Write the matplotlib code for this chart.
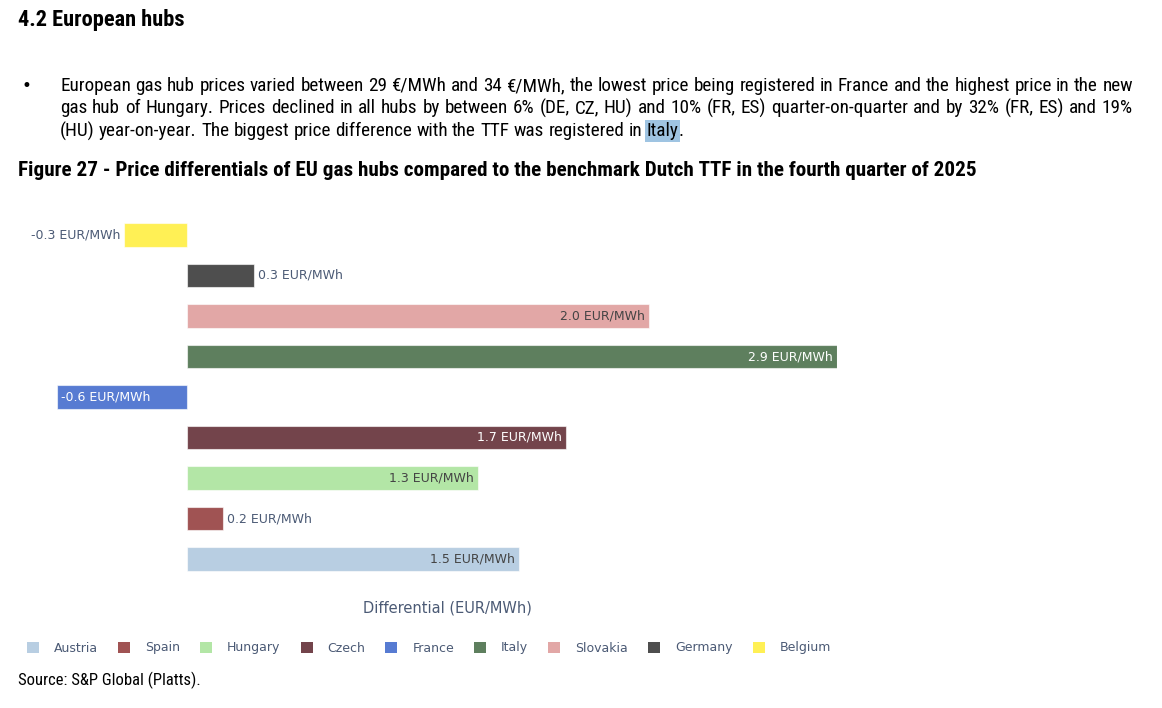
import matplotlib
matplotlib.use('Agg')
import matplotlib.pyplot as plt
from matplotlib import font_manager
from matplotlib.patches import Patch
import matplotlib.colors as mcolors

# ---------------- data ----------------
hubs = ['Belgium', 'Germany', 'Slovakia', 'Italy', 'France', 'Czech', 'Hungary', 'Spain', 'Austria']
values = [-0.28, 0.30, 2.06, 2.90, -0.58, 1.69, 1.30, 0.16, 1.48]
labels = ['-0.3 EUR/MWh', '0.3 EUR/MWh', '2.0 EUR/MWh', '2.9 EUR/MWh', '-0.6 EUR/MWh',
          '1.7 EUR/MWh', '1.3 EUR/MWh', '0.2 EUR/MWh', '1.5 EUR/MWh']
colors = ['#fff055', '#4e4e4e', '#e2a7a6', '#5e7f5e', '#577bd2', '#73444b', '#b3e6a6', '#a05353', '#b8cee2']
legend_order = ['Austria', 'Spain', 'Hungary', 'Czech', 'France', 'Italy', 'Slovakia', 'Germany', 'Belgium']

heading = '4.2 European hubs'
body_lines = [
    'European gas hub prices varied between 29 €/MWh and 34 €/MWh, the lowest price being registered in France and the highest price in the new',
    'gas hub of Hungary. Prices declined in all hubs by between 6% (DE, CZ, HU) and 10% (FR, ES) quarter-on-quarter and by 32% (FR, ES) and 19%',
    '(HU) year-on-year. The biggest price difference with the TTF was registered in Italy.',
]
fig_title = 'Figure 27 - Price differentials of EU gas hubs compared to the benchmark Dutch TTF in the fourth quarter of 2025'
x_title = 'Differential (EUR/MWh)'
source = 'Source: S&P Global (Platts).'

# ---------------- setup ----------------
W, H = 1162, 708
avail = {f.name for f in font_manager.fontManager.ttflist}
doc_font = next((f for f in ['Liberation Sans Narrow', 'Roboto Condensed', 'Open Sans Condensed',
                             'DejaVu Sans Condensed', 'Liberation Sans'] if f in avail), 'DejaVu Sans')
chart_font = 'DejaVu Sans'

fig = plt.figure(figsize=(W / 100, H / 100), dpi=100)
fig.patch.set_facecolor('white')
renderer = fig.canvas.get_renderer()


def fy(y):
    return 1 - y / H


def text_w(t):
    return t.get_window_extent(renderer).width


def fit_text(x, y, s, target_w, fs0=12, **kw):
    t = fig.text(x / W, fy(y), s, fontsize=fs0, va='center', ha='left', family=doc_font, color='black', **kw)
    t.set_fontsize(fs0 * target_w / text_w(t))
    return t


# heading, title, source
fit_text(18, 20, heading, 167, weight='bold')
fit_text(18, 171, fig_title, 959, weight='bold')
fit_text(18, 680, source, 182)

# body text: font size from last (non-justified) line
probe = fig.text(0, 0, body_lines[2], fontsize=12, family=doc_font)
body_fs = 12 * 623 / text_w(probe)
probe.remove()


def word_width(wd):
    t = fig.text(0, 0, wd, fontsize=body_fs, family=doc_font)
    w = text_w(t)
    t.remove()
    return w


space_w = word_width('a a') - word_width('aa')
line_y = [86, 108, 131]
x0, x1 = 60, 1133
for li, line in enumerate(body_lines):
    words = line.split(' ')
    widths = [word_width(w) for w in words]
    if li < 2:
        gap = (x1 - x0 - sum(widths)) / (len(words) - 1)
    else:
        gap = space_w
    x = x0
    for wd, ww in zip(words, widths):
        if wd == 'Italy.':
            fig.text(x / W, fy(line_y[li]), 'Italy', fontsize=body_fs, family=doc_font, va='center',
                     ha='left', bbox=dict(facecolor='#9fc4e2', edgecolor='none', pad=1.2))
            x2 = x + word_width('Italy')
            fig.text(x2 / W, fy(line_y[li]), '.', fontsize=body_fs, family=doc_font, va='center', ha='left')
        else:
            fig.text(x / W, fy(line_y[li]), wd, fontsize=body_fs, family=doc_font, va='center', ha='left')
        x += ww + gap

fig.text(22 / W, fy(86), '•', fontsize=12, family='DejaVu Sans', va='center', ha='left')

# ---------------- chart ----------------
ax_l, ax_r, ax_t, ax_b = 57, 837, 214.75, 579.25
ax = fig.add_axes([ax_l / W, fy(ax_b), (ax_r - ax_l) / W, (ax_b - ax_t) / H])
ypos = list(range(len(hubs)))
ax.barh(ypos, values, height=0.57, color=colors, edgecolor=(1, 1, 1, 0.6), linewidth=0.8)
ax.set_ylim(len(hubs) - 0.5, -0.5)
xmin, xmax = min(values), max(values)
ax.set_xlim(xmin, xmax)
for sp in ax.spines.values():
    sp.set_visible(False)
ax.set_xticks([])
ax.set_yticks([])
ax.patch.set_alpha(0)

px_per_unit = (ax_r - ax_l) / (xmax - xmin)
outside_color = '#4b5a75'
label_fs = 9
pad_pt = 3
for i, (v, lab, c) in enumerate(zip(values, labels, colors)):
    probe = fig.text(0, 0, lab, fontsize=label_fs, family=chart_font)
    tw = text_w(probe)
    probe.remove()
    barlen = abs(v) * px_per_unit
    r, g, b = mcolors.to_rgb(c)
    lum = 0.299 * r + 0.587 * g + 0.114 * b
    if tw + 8 <= barlen:
        col = '#444444' if lum > 0.55 else 'white'
        if v >= 0:
            ax.annotate(lab, (v, i), xytext=(-pad_pt, 0), textcoords='offset points', ha='right', va='center',
                        fontsize=label_fs, color=col, family=chart_font)
        else:
            ax.annotate(lab, (v, i), xytext=(pad_pt, 0), textcoords='offset points', ha='left', va='center',
                        fontsize=label_fs, color=col, family=chart_font)
    else:
        if v >= 0:
            ax.annotate(lab, (v, i), xytext=(pad_pt, 0), textcoords='offset points', ha='left', va='center',
                        fontsize=label_fs, color=outside_color, family=chart_font)
        else:
            ax.annotate(lab, (v, i), xytext=(-pad_pt, 0), textcoords='offset points', ha='right', va='center',
                        fontsize=label_fs, color=outside_color, family=chart_font)

ax.text(0.5, -(608 - ax_b) / (ax_b - ax_t), x_title, transform=ax.transAxes, ha='center', va='center',
        fontsize=10.5, color=outside_color, family=chart_font)

handles = [Patch(facecolor=colors[hubs.index(n)], edgecolor='none') for n in legend_order]
fig.legend(handles, legend_order, loc='center left', bbox_to_anchor=(27 / W, fy(648)), ncol=9, frameon=False,
           prop={'family': chart_font, 'size': 9}, handlelength=0.96, handleheight=0.96, handletextpad=1.2,
           columnspacing=1.6, borderpad=0, borderaxespad=0, labelcolor=outside_color)

fig.savefig('out.png', dpi=100, facecolor='white')
